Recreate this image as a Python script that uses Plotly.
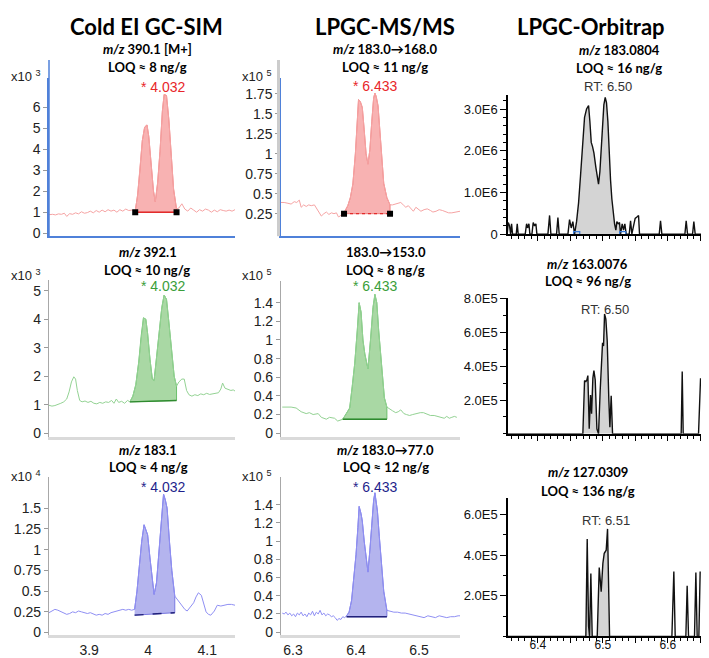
import plotly.graph_objects as go

W, H = 709, 658

# ================= DATA =================
# ---- Cold EI GC-SIM : retention time (min) / abundance ----
ei390_t = [3.832, 3.838, 3.843, 3.848, 3.853, 3.858, 3.862, 3.867, 3.872, 3.877,
           3.882, 3.887, 3.892, 3.897, 3.902, 3.907, 3.912, 3.917, 3.922, 3.927,
           3.932, 3.937, 3.942, 3.947, 3.952, 3.957, 3.962, 3.967, 3.972,
           3.978, 3.982, 3.986, 3.990, 3.994, 3.998, 4.001, 4.005, 4.009, 4.012,
           4.016, 4.020, 4.024, 4.027, 4.031, 4.035, 4.039, 4.043, 4.048,
           4.052, 4.057, 4.062, 4.067, 4.072, 4.077, 4.082, 4.087, 4.092, 4.097,
           4.102, 4.107, 4.112, 4.117, 4.122, 4.127, 4.132, 4.137, 4.142, 4.147]
ei390_i = [0.88, 0.90, 0.87, 0.92, 0.90, 0.95, 0.80, 0.93, 0.90, 0.97,
           0.92, 1.02, 0.95, 0.98, 1.05, 0.97, 1.08, 1.00, 1.10, 1.02,
           1.12, 1.05, 1.10, 1.00, 1.12, 1.05, 1.15, 1.08, 1.10,
           1.05, 1.80, 3.00, 4.40, 5.05, 5.15, 4.60, 3.20, 2.00, 1.50,
           2.40, 3.90, 5.80, 6.60, 6.55, 5.40, 3.60, 2.10, 1.15,
           1.20, 1.40, 1.15, 1.05, 1.20, 1.10, 1.00, 1.12, 1.05, 1.15,
           1.10, 1.00, 1.10, 1.02, 1.12, 1.08, 1.05, 1.10, 1.05, 1.12]   # x10^3
ei390_win = [3.978, 4.048]
ei390_base = [1.00, 1.00]

ei392_t = [3.832, 3.837, 3.842, 3.847, 3.852, 3.857, 3.862, 3.866, 3.870, 3.874,
           3.877, 3.880, 3.884, 3.888, 3.893, 3.898, 3.903, 3.908, 3.913, 3.918,
           3.923, 3.928, 3.933, 3.938, 3.942, 3.946, 3.950, 3.955, 3.960, 3.965,
           3.969, 3.974, 3.979, 3.984, 3.988, 3.992, 3.996, 3.999, 4.003, 4.007,
           4.010, 4.014, 4.019, 4.023, 4.027, 4.031, 4.035, 4.040, 4.044, 4.048,
           4.052, 4.057, 4.061, 4.065, 4.069, 4.074, 4.079, 4.084, 4.089, 4.094,
           4.099, 4.104, 4.109, 4.114, 4.119, 4.123, 4.126, 4.130, 4.135, 4.140,
           4.144, 4.147]
ei392_i = [0.98, 0.95, 0.97, 1.00, 1.05, 1.10, 1.20, 1.45, 1.80, 1.98,
           1.90, 1.50, 1.15, 1.10, 1.13, 1.08, 1.12, 1.05, 1.03, 1.08,
           1.05, 1.10, 1.08, 1.15, 1.05, 1.20, 1.08, 1.12, 1.05, 1.15,
           1.10, 1.30, 1.70, 2.50, 3.40, 4.05, 4.00, 3.50, 2.60, 1.90,
           1.85, 2.60, 3.60, 4.40, 4.85, 4.70, 3.90, 2.80, 2.00, 1.65,
           1.80, 1.90, 1.90, 1.50, 1.35, 1.30, 1.35, 1.32, 1.38, 1.35,
           1.40, 1.36, 1.38, 1.38, 1.42, 1.55, 1.76, 1.58, 1.55, 1.50,
           1.52, 1.48]   # x10^3
ei392_win = [3.969, 4.048]
ei392_base = [1.10, 1.15]

ei183_t = [3.832, 3.837, 3.842, 3.847, 3.852, 3.857, 3.862, 3.867, 3.872, 3.877,
           3.882, 3.887, 3.892, 3.897, 3.902, 3.907, 3.912, 3.917, 3.922, 3.927,
           3.932, 3.937, 3.942, 3.947, 3.952, 3.957, 3.962, 3.967, 3.972, 3.977,
           3.981, 3.985, 3.989, 3.993, 3.996, 3.999, 4.003, 4.007, 4.010, 4.014,
           4.018, 4.022, 4.026, 4.029, 4.032, 4.036, 4.040, 4.045, 4.049, 4.053,
           4.057, 4.062, 4.066, 4.071, 4.077, 4.081, 4.085, 4.090, 4.094, 4.098,
           4.102, 4.106, 4.112, 4.117, 4.123, 4.129, 4.135, 4.141, 4.147]
ei183_i = [0.24, 0.26, 0.28, 0.27, 0.25, 0.24, 0.22, 0.23, 0.25, 0.24,
           0.26, 0.25, 0.24, 0.23, 0.24, 0.22, 0.21, 0.22, 0.21, 0.23,
           0.22, 0.24, 0.25, 0.26, 0.27, 0.28, 0.27, 0.28, 0.27, 0.28,
           0.50, 0.80, 1.10, 1.30, 1.25, 1.18, 0.90, 0.60, 0.46, 0.60,
           0.95, 1.35, 1.67, 1.60, 1.50, 1.10, 0.75, 0.44, 0.40, 0.36,
           0.32, 0.28, 0.26, 0.30, 0.36, 0.43, 0.48, 0.45, 0.35, 0.25,
           0.22, 0.21, 0.26, 0.33, 0.32, 0.33, 0.34, 0.34, 0.33]   # x10^4
ei183_win = [3.977, 4.045]
ei183_base = [0.21, 0.24]

# ---- LPGC-MS/MS ----
ms168_t = [6.281, 6.286, 6.292, 6.297, 6.302, 6.306, 6.310, 6.313, 6.317, 6.321,
           6.325, 6.329, 6.334, 6.338, 6.341, 6.345, 6.349, 6.353, 6.357, 6.361,
           6.365, 6.369, 6.372, 6.375, 6.378, 6.381, 6.387, 6.391, 6.395, 6.399,
           6.402, 6.404, 6.407, 6.410, 6.413, 6.416, 6.419, 6.422, 6.425, 6.428,
           6.430, 6.432, 6.435, 6.438, 6.441, 6.444, 6.449, 6.454, 6.458, 6.463,
           6.467, 6.471, 6.475, 6.479, 6.483, 6.487, 6.491, 6.495, 6.499, 6.503,
           6.508, 6.513, 6.518, 6.522, 6.527, 6.532, 6.537, 6.542, 6.547, 6.552,
           6.557, 6.561, 6.565]
ms168_i = [0.39, 0.39, 0.38, 0.37, 0.40, 0.39, 0.42, 0.33, 0.36, 0.34,
           0.36, 0.35, 0.36, 0.31, 0.26, 0.22, 0.25, 0.27, 0.24, 0.26,
           0.25, 0.26, 0.21, 0.22, 0.25, 0.26, 0.35, 0.45, 0.62, 1.00,
           1.40, 1.68, 1.65, 1.58, 1.30, 1.00, 0.87, 1.05, 1.40, 1.70,
           1.76, 1.72, 1.60, 1.30, 0.95, 0.63, 0.45, 0.36, 0.36, 0.37,
           0.38, 0.39, 0.36, 0.33, 0.35, 0.31, 0.28, 0.33, 0.31, 0.28,
           0.30, 0.31, 0.29, 0.27, 0.28, 0.30, 0.29, 0.27, 0.26, 0.26,
           0.27, 0.28, 0.28]   # x10^5
ms168_win = [6.381, 6.454]
ms168_base = [0.25, 0.25]

ms153_t = [6.283, 6.290, 6.297, 6.305, 6.313, 6.321, 6.326, 6.332, 6.340, 6.345,
           6.353, 6.358, 6.366, 6.371, 6.379, 6.384, 6.390, 6.394, 6.398, 6.402,
           6.405, 6.408, 6.411, 6.414, 6.419, 6.423, 6.427, 6.430, 6.433, 6.436,
           6.440, 6.445, 6.449, 6.453, 6.458, 6.463, 6.467, 6.471, 6.476, 6.480,
           6.485, 6.490, 6.496, 6.502, 6.507, 6.512, 6.518, 6.524, 6.530, 6.535,
           6.540, 6.544, 6.548, 6.552, 6.556, 6.560]
ms153_i = [0.28, 0.28, 0.28, 0.27, 0.23, 0.21, 0.22, 0.20, 0.21, 0.17,
           0.15, 0.17, 0.16, 0.13, 0.15, 0.20, 0.27, 0.50, 0.75, 1.10,
           1.40, 1.30, 1.00, 0.85, 0.69, 1.00, 1.35, 1.49, 1.40, 1.10,
           0.80, 0.38, 0.28, 0.26, 0.24, 0.22, 0.23, 0.25, 0.21, 0.20,
           0.19, 0.20, 0.21, 0.22, 0.22, 0.21, 0.19, 0.19, 0.18, 0.17,
           0.16, 0.18, 0.16, 0.17, 0.18, 0.17]   # x10^5
ms153_win = [6.379, 6.449]
ms153_base = [0.15, 0.15]

ms77_t = [6.283, 6.286, 6.289, 6.292, 6.295, 6.298, 6.301, 6.304, 6.307, 6.310,
          6.313, 6.316, 6.319, 6.322, 6.325, 6.328, 6.331, 6.334, 6.337, 6.340,
          6.343, 6.346, 6.349, 6.352, 6.355, 6.358, 6.361, 6.364, 6.367, 6.370,
          6.373, 6.376, 6.379, 6.382, 6.385, 6.389, 6.393, 6.397, 6.400, 6.403,
          6.405, 6.408, 6.410, 6.413, 6.416, 6.419, 6.422, 6.425, 6.428, 6.430,
          6.432, 6.434, 6.437, 6.440, 6.444, 6.449, 6.454, 6.460, 6.466, 6.472,
          6.478, 6.484, 6.490, 6.496, 6.502, 6.508, 6.514, 6.520, 6.526, 6.532,
          6.538, 6.544, 6.550, 6.556, 6.562, 6.565]
ms77_i = [0.21, 0.20, 0.22, 0.19, 0.21, 0.18, 0.20, 0.17, 0.21, 0.19,
          0.22, 0.18, 0.20, 0.17, 0.21, 0.19, 0.23, 0.18, 0.22, 0.20,
          0.24, 0.19, 0.21, 0.18, 0.20, 0.19, 0.17, 0.18, 0.16, 0.13,
          0.15, 0.14, 0.17, 0.16, 0.18, 0.22, 0.35, 0.60, 0.85, 1.15,
          1.38, 1.30, 1.22, 1.00, 0.80, 0.66, 0.90, 1.20, 1.45, 1.53,
          1.45, 1.33, 1.05, 0.75, 0.45, 0.24, 0.23, 0.22, 0.22, 0.21,
          0.21, 0.20, 0.19, 0.18, 0.17, 0.16, 0.18, 0.17, 0.16, 0.18,
          0.17, 0.16, 0.17, 0.17, 0.18, 0.18]   # x10^5
ms77_win = [6.385, 6.449]
ms77_base = [0.17, 0.17]

# ---- LPGC-Orbitrap ----
ob183_t = [6.3528, 6.3544, 6.3564, 6.3580, 6.3595, 6.3610, 6.3667, 6.3682, 6.3697, 6.3805,
           6.3826, 6.3841, 6.3862, 6.3877, 6.3908, 6.3928, 6.3949, 6.3969, 6.3985, 6.4154,
           6.4180, 6.4200, 6.4287, 6.4308, 6.4328, 6.4462, 6.4487, 6.4513, 6.4538, 6.4564,
           6.4595, 6.4626, 6.4656, 6.4687, 6.4718, 6.4749, 6.4780, 6.4800, 6.4821, 6.4841,
           6.4862, 6.4892, 6.4913, 6.4933, 6.4954, 6.4974, 6.4995, 6.5015, 6.5036, 6.5056,
           6.5077, 6.5097, 6.5118, 6.5138, 6.5159, 6.5180, 6.5200, 6.5215, 6.5236, 6.5256,
           6.5272, 6.5297, 6.5318, 6.5338, 6.5359, 6.5405, 6.5426, 6.5446, 6.5472, 6.5497,
           6.5528, 6.5549, 6.5564, 6.5867, 6.5887, 6.5908, 6.6262, 6.6282, 6.6303, 6.6380,
           6.6400, 6.6421, 6.6510]
ob183_i = [0, 0.28, 0.20, 0, 0.25, 0, 0, 0.25, 0, 0,
           0.25, 0.15, 0.25, 0, 0, 0.28, 0.20, 0.25, 0, 0,
           0.45, 0, 0, 0.40, 0, 0, 0.35, 0.15, 0.30, 0,
           0.30, 0.75, 1.40, 2.10, 2.80, 3.00, 3.08, 2.70, 2.20, 2.10,
           1.95, 1.60, 1.40, 1.20, 1.50, 2.00, 2.60, 3.10, 3.28, 3.15,
           2.70, 1.90, 1.30, 0.85, 0.50, 0.25, 0.10, 0.30, 0.25, 0.28,
           0, 0.25, 0.10, 0.25, 0, 0, 0.32, 0, 0.20, 0.38,
           0.42, 0.45, 0, 0, 0.32, 0, 0, 0.32, 0, 0,
           0.30, 0, 0]   # E6
ob183_win = [6.4564, 6.5272]

ob163_t = [6.3538, 6.4692, 6.4718, 6.4738, 6.4754, 6.4769, 6.4790, 6.4810, 6.4826, 6.4846,
           6.4862, 6.4882, 6.4908, 6.4933, 6.4959, 6.4979, 6.4995, 6.5010, 6.5026, 6.5046,
           6.5067, 6.5092, 6.5108, 6.5128, 6.5149, 6.6205, 6.6221, 6.6236, 6.6472, 6.6503]
ob163_i = [0, 0, 3.15, 3.10, 3.20, 3.45, 0.30, 2.30, 1.20, 3.30,
           3.75, 3.20, 0.30, 0, 2.60, 4.60, 5.40, 5.20, 7.10, 6.80,
           5.50, 2.00, 0.40, 2.25, 0, 0, 3.70, 0, 0, 3.30]   # E5
ob163_win = [6.4692, 6.5149]

ob127_t = [6.3538, 6.4738, 6.4759, 6.4780, 6.4795, 6.4815, 6.4836, 6.4913, 6.4944, 6.4974,
           6.5000, 6.5021, 6.5051, 6.5072, 6.5103, 6.6062, 6.6092, 6.6113, 6.6277, 6.6297,
           6.6318, 6.6410, 6.6431, 6.6451, 6.6477, 6.6497]
ob127_i = [0, 0, 4.80, 0.50, 0, 3.10, 0, 0, 3.40, 2.20,
           3.60, 4.10, 4.25, 5.30, 0, 0, 3.20, 0, 0, 2.50,
           0, 0, 3.15, 0, 0, 3.20]   # E5
ob127_win = [6.4738, 6.5103]

# tick labels
ei_xticks = [3.9, 4.0, 4.1]
ei_xtext = ["3.9", "4", "4.1"]
ms_xticks = [6.3, 6.4, 6.5]
ms_xtext = ["6.3", "6.4", "6.5"]
ob_xticks = [6.35, 6.40, 6.45, 6.50, 6.55, 6.60, 6.65]
ob_xlabel_vals = [6.4, 6.5, 6.6]
ob_xlabel_text = ["6.4", "6.5", "6.6"]

# ================= STYLE =================
STY = {
    'red':   dict(line='#f5a3a3', fill='#f8b2b2', edge='#ef7f7f', base='#e22b2b', lab='#e8262a'),
    'green': dict(line='#93d293', fill='#a9d8a4', edge='#6cbf6c', base='#2f8a2f', lab='#3a9e3a'),
    'blue':  dict(line='#8f8ff3', fill='#b4b4ee', edge='#7878df', base='#20207a', lab='#1f1f8c'),
}
BLUE_AX = '#4f81d9'
HEAD = "Lato, sans-serif"
ARIAL = "Liberation Sans, Arial, sans-serif"

EI_XR = [3.832, 4.147]
MS_XR = [6.281, 6.565]
OB_XR = [6.354, 6.651]
COLX = {1: (41, 227), 2: (273, 452), 3: (500, 693)}

panels = [
    dict(col=1, t=ei390_t, i=ei390_i, win=ei390_win, base=ei390_base, sty='red', dash='solid',
         yd=(65, 227), yr=[-0.14, 7.4], yt=[0, 1, 2, 3, 4, 5, 6], yx=None, top=True, bottom=False),
    dict(col=2, t=ms168_t, i=ms168_i, win=ms168_win, base=ms168_base, sty='red', dash='dot',
         yd=(65, 227), yr=[-0.032, 1.954], yt=[0.25, 0.5, 0.75, 1, 1.25, 1.5, 1.75],
         yx=["0.25", "0.5", "0.75", "1", "1.25", "1.5", "1.75"], top=True, bottom=False),
    dict(col=3, t=ob183_t, i=ob183_i, win=ob183_win, yd=(83, 225), yr=[0, 3.33],
         yt=[0, 1, 2, 3], yx=["0", "1.0E6", "2.0E6", "3.0E6"], minor=0.2, bottom=False, brackets=True),
    dict(col=1, t=ei392_t, i=ei392_i, win=ei392_win, base=ei392_base, sty='green', dash='solid',
         yd=(272, 432), yr=[-0.127, 5.37], yt=[0, 1, 2, 3, 4, 5], yx=None, top=False, bottom=False),
    dict(col=2, t=ms153_t, i=ms153_i, win=ms153_win, base=ms153_base, sty='green', dash='solid',
         yd=(273, 432), yr=[-0.039, 1.631], yt=[0, 0.2, 0.4, 0.6, 0.8, 1, 1.2, 1.4],
         yx=["0", "0.2", "0.4", "0.6", "0.8", "1", "1.2", "1.4"], top=False, bottom=False),
    dict(col=3, t=ob163_t, i=ob163_i, win=ob163_win, yd=(290, 429), yr=[0, 8.06],
         yt=[2, 4, 6, 8], yx=["2.0E5", "4.0E5", "6.0E5", "8.0E5"], minor=1, bottom=False, brackets=False),
    dict(col=1, t=ei183_t, i=ei183_i, win=ei183_win, base=ei183_base, sty='blue', dash='dash',
         yd=(473, 635), yr=[-0.035, 1.877], yt=[0, 0.25, 0.5, 0.75, 1, 1.25, 1.5],
         yx=["0", "0.25", "0.5", "0.75", "1", "1.25", "1.5"], top=False, bottom=True),
    dict(col=2, t=ms77_t, i=ms77_i, win=ms77_win, base=ms77_base, sty='blue', dash='solid',
         yd=(473, 635), yr=[-0.036, 1.704], yt=[0, 0.2, 0.4, 0.6, 0.8, 1, 1.2, 1.4],
         yx=["0", "0.2", "0.4", "0.6", "0.8", "1", "1.2", "1.4"], top=False, bottom=True),
    dict(col=3, t=ob127_t, i=ob127_i, win=ob127_win, yd=(495, 636), yr=[0, 6.80],
         yt=[2, 4, 6], yx=["2.0E5", "4.0E5", "6.0E5"], minor=1, bottom=True, brackets=False),
]

fig = go.Figure()
layout = dict(width=W, height=H, margin=dict(l=0, r=0, t=0, b=0), autosize=False,
              paper_bgcolor='white', plot_bgcolor='white', showlegend=False)


def window(t, i, win):
    pts = [(a, b) for a, b in zip(t, i) if win[0] <= a <= win[1]]
    return [p[0] for p in pts], [p[1] for p in pts]


for k, p in enumerate(panels, start=1):
    xa = 'x' if k == 1 else 'x%d' % k
    ya = 'y' if k == 1 else 'y%d' % k
    xkey = 'xaxis' if k == 1 else 'xaxis%d' % k
    ykey = 'yaxis' if k == 1 else 'yaxis%d' % k
    c = p['col']
    x0, x1 = COLX[c]
    xdom = [x0 / W, x1 / W]
    ydom = [1 - p['yd'][1] / H, 1 - p['yd'][0] / H]
    wx, wy = window(p['t'], p['i'], p['win'])

    if c in (1, 2):
        s = STY[p['sty']]
        b0, b1 = p['base']
        fig.add_trace(go.Scatter(x=wx + [p['win'][1], p['win'][0]], y=wy + [b1, b0],
                                 fill='toself', fillcolor=s['fill'], mode='lines',
                                 line=dict(color=s['edge'], width=1), xaxis=xa, yaxis=ya,
                                 hoverinfo='skip'))
        fig.add_trace(go.Scatter(x=p['t'], y=p['i'], mode='lines',
                                 line=dict(color=s['line'], width=1), xaxis=xa, yaxis=ya))
        fig.add_trace(go.Scatter(x=p['win'], y=p['base'], mode='lines',
                                 line=dict(color=s['base'], width=1.4, dash=p['dash']),
                                 xaxis=xa, yaxis=ya))
        if p['top']:
            fig.add_trace(go.Scatter(x=p['win'], y=p['base'], mode='markers',
                                     marker=dict(symbol='square', size=6, color='black'),
                                     xaxis=xa, yaxis=ya))
            axcol_y, axcol_x, lw_x, lw_y = BLUE_AX, BLUE_AX, 1.5, 1.5
        else:
            axcol_y, axcol_x, lw_x, lw_y = '#a8a8a8', '#dadada', 3, 1.2
        xr = EI_XR if c == 1 else MS_XR
        xt = ei_xticks if c == 1 else ms_xticks
        xtt = ei_xtext if c == 1 else ms_xtext
        layout[xkey] = dict(domain=xdom, range=xr, anchor=ya, showgrid=False, zeroline=False,
                            showline=True, linecolor=axcol_x, linewidth=lw_x, ticks='',
                            tickvals=xt, ticktext=xtt, showticklabels=p['bottom'],
                            tickfont=dict(family=ARIAL, size=14, color='#222'), fixedrange=True)
        ykw = dict(domain=ydom, range=p['yr'], anchor=xa, showgrid=False, zeroline=False,
                   showline=True, linecolor=axcol_y, linewidth=lw_y, ticks='outside',
                   ticklen=4, tickcolor='#9a9a9a', tickvals=p['yt'],
                   tickfont=dict(family=ARIAL, size=14, color='#222'), fixedrange=True)
        if p['yx']:
            ykw['ticktext'] = p['yx']
        layout[ykey] = ykw
    else:
        fig.add_trace(go.Scatter(x=[p['win'][0]] + wx + [p['win'][1]], y=[0] + wy + [0],
                                 fill='toself', fillcolor='#d4d4d4', mode='lines',
                                 line=dict(color='rgba(0,0,0,0)', width=0), xaxis=xa, yaxis=ya))
        fig.add_trace(go.Scatter(x=p['t'], y=p['i'], mode='lines',
                                 line=dict(color='#111111', width=1.4), xaxis=xa, yaxis=ya))
        if p['brackets']:
            for w0 in p['win']:
                fig.add_trace(go.Scatter(x=[w0 - 0.0015, w0 - 0.0015, w0 + 0.008, w0 + 0.008],
                                         y=[0.0, 0.06, 0.06, 0.0], mode='lines',
                                         line=dict(color='#3a7bd5', width=1.2), xaxis=xa, yaxis=ya))
        layout[xkey] = dict(domain=xdom, range=OB_XR, anchor=ya, showgrid=False, zeroline=False,
                            showline=True, linecolor='black', linewidth=1.5, ticks='outside',
                            ticklen=5, tickwidth=1.2, tickcolor='black',
                            tickvals=ob_xticks, showticklabels=False,
                            minor=dict(tick0=6.35, dtick=0.01, ticks='outside', ticklen=3,
                                       tickcolor='black', tickwidth=1),
                            fixedrange=True)
        if p['bottom']:
            # overlay axis carrying only the time labels
            layout['xaxis10'] = dict(domain=xdom, range=OB_XR, anchor=ya, overlaying=xa,
                                     side='bottom', showgrid=False, zeroline=False, showline=False,
                                     ticks='', tickvals=ob_xlabel_vals, ticktext=ob_xlabel_text,
                                     ticklabelstandoff=0,
                                     tickfont=dict(family=ARIAL, size=12, color='#111'),
                                     fixedrange=True)
            fig.add_trace(go.Scatter(x=[OB_XR[0]], y=[0], mode='markers', xaxis='x10', yaxis=ya,
                                     marker=dict(size=1, color='rgba(0,0,0,0)'), hoverinfo='skip'))
        layout[ykey] = dict(domain=ydom, range=p['yr'], anchor=xa, showgrid=False, zeroline=False,
                            showline=True, linecolor='black', linewidth=1.5, ticks='outside',
                            ticklen=6, tickwidth=1.2, tickcolor='black',
                            tickvals=p['yt'], ticktext=p['yx'],
                            minor=dict(tick0=0, dtick=p['minor'], ticks='outside', ticklen=3,
                                       tickcolor='black', tickwidth=1),
                            tickfont=dict(family=ARIAL, size=13, color='#111'), fixedrange=True)


def ann(text, px, py, size, color='#000', family=HEAD, xanchor='center'):
    return dict(text=text, x=px / W, y=1 - py / H, xref='paper', yref='paper', showarrow=False,
                xanchor=xanchor, yanchor='middle', borderpad=0,
                font=dict(family=family, size=size, color=color))


A = []
# column titles
A.append(ann("<b>Cold EI GC-SIM</b>", 138, 13, 22))
A.append(ann("<b>LPGC-MS/MS</b>", 377, 13, 22))
A.append(ann("<b>LPGC-Orbitrap</b>", 583, 13, 22))
# sub-titles
subs = [
    ("<b><i>m/z</i> 390.1 [M+]</b>", 139, 36), ("<b>LOQ ≈ 8 ng/g</b>", 139, 54),
    ("<b><i>m/z</i> 183.0→168.0</b>", 377, 36), ("<b>LOQ ≈ 11 ng/g</b>", 377, 54),
    ("<b><i>m/z</i> 183.0804</b>", 611, 37), ("<b>LOQ ≈ 16 ng/g</b>", 611, 55),
    ("<b><i>m/z</i> 392.1</b>", 140, 243), ("<b>LOQ ≈ 10 ng/g</b>", 139, 262),
    ("<b>183.0→153.0</b>", 378, 243), ("<b>LOQ ≈ 8 ng/g</b>", 378, 262),
    ("<b><i>m/z</i> 163.0076</b>", 579, 255), ("<b>LOQ ≈ 96 ng/g</b>", 580, 273),
    ("<b><i>m/z</i> 183.1</b>", 140, 445), ("<b>LOQ ≈ 4 ng/g</b>", 140, 463),
    ("<b><i>m/z</i> 183.0→77.0</b>", 378, 445), ("<b>LOQ ≈ 12 ng/g</b>", 378, 463),
    ("<b><i>m/z</i> 127.0309</b>", 580, 468), ("<b>LOQ ≈ 136 ng/g</b>", 580, 487),
]
for t, x, y in subs:
    A.append(ann(t, x, y, 13))
# peak labels
A.append(ann("* 4.032", 155, 75, 14, STY['red']['lab'], ARIAL))
A.append(ann("* 6.433", 367, 74, 14, STY['red']['lab'], ARIAL))
A.append(ann("* 4.032", 155, 278, 14, STY['green']['lab'], ARIAL))
A.append(ann("* 6.433", 367, 278, 14, STY['green']['lab'], ARIAL))
A.append(ann("* 4.032", 155, 483, 14, STY['blue']['lab'], ARIAL))
A.append(ann("* 6.433", 367, 483, 14, STY['blue']['lab'], ARIAL))
A.append(ann("RT: 6.50", 600, 74, 13, '#333', ARIAL))
A.append(ann("RT: 6.50", 597, 302, 13, '#333', ARIAL))
A.append(ann("RT: 6.51", 598, 518, 13, '#333', ARIAL))
# multipliers
for txt, x, y in [("x10 <sup>3</sup>", 2, 63), ("x10 <sup>5</sup>", 233, 63),
                  ("x10 <sup>3</sup>", 2, 267), ("x10 <sup>5</sup>", 233, 267),
                  ("x10 <sup>4</sup>", 2, 472), ("x10 <sup>5</sup>", 233, 472)]:
    A.append(ann(txt, x, y, 13, '#222', ARIAL, xanchor='left'))
layout['annotations'] = A

layout['shapes'] = [
    dict(type='line', xref='paper', yref='paper', x0=41 / W, x1=41 / W, y0=1 - 47 / H, y1=1 - 227 / H,
         line=dict(color=BLUE_AX, width=1.5)),
    dict(type='line', xref='paper', yref='paper', x0=270.5 / W, x1=270.5 / W, y0=1 - 47 / H, y1=1 - 227 / H,
         line=dict(color='#cccccc', width=3)),
]

fig.update_layout(**layout)
fig.write_html("out.html")
